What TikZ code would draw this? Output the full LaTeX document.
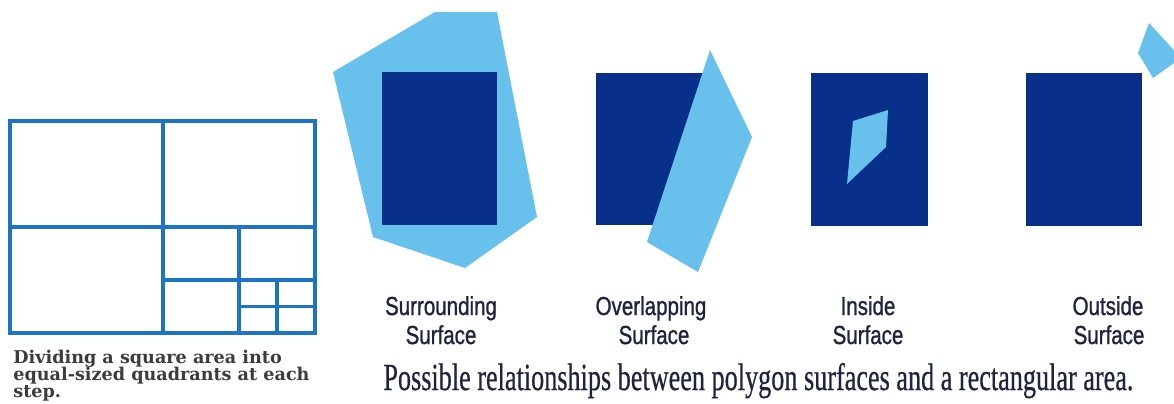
\documentclass[tikz,border=0pt]{standalone}
\usepackage{fontspec}
\usepackage{graphicx}
\setmainfont{Liberation Serif}
\newfontfamily\lblfont[FakeBold=1.2]{Liberation Sans}
\newfontfamily\capfont{DejaVu Serif}
\newfontfamily\mainfont[FakeBold=0.6]{Liberation Serif}
\definecolor{gridblue}{RGB}{28,116,196}
\definecolor{darkarea}{RGB}{8,48,138}
\definecolor{lightpoly}{RGB}{104,192,236}
\definecolor{labelink}{RGB}{30,36,64}
\definecolor{capgray}{RGB}{60,60,60}
\newcommand\lbltext[1]{\scalebox{0.79}[1]{#1}}
\tikzset{
  gridline/.style={draw=gridblue, line width=1.7pt, line cap=rect},
  area/.style={fill=darkarea},
  poly/.style={fill=lightpoly},
  lbl/.style={inner sep=0pt, anchor=base, text=labelink, font=\lblfont\fontsize{13pt}{15pt}\selectfont},
  leftcap/.style={inner sep=0pt, anchor=base west, text=capgray, font=\capfont\bfseries\fontsize{8.8pt}{10pt}\selectfont},
  maincap/.style={inner sep=0pt, anchor=base west, text=labelink, font=\mainfont}
}
\begin{document}
\begin{tikzpicture}[x=0.5pt, y=-0.5pt]
\useasboundingbox (0,0) rectangle (1174,403);
\fill[white] (0,0) rectangle (1174,403);
% quadtree subdivision
\draw[gridline] (10,121) rectangle (315,333);
\draw[gridline] (163,121) -- (163,333);
\draw[gridline] (10,227) -- (315,227);
\draw[gridline] (239,227) -- (239,333);
\draw[gridline] (163,280) -- (315,280);
\draw[gridline] (277,280) -- (277,333);
\draw[gridline] (239,306.5) -- (315,306.5);
\node[leftcap] (lc1) at (13,363) {Dividing a square area into};
\node[leftcap] (lc2) at (13,380) {equal-sized quadrants at each};
\node[leftcap] (lc3) at (13,397) {step.};
% surrounding
\fill[poly] (333,72) -- (435,12) -- (497,12) -- (537,217) -- (465,268) -- (373,237) -- cycle;
\fill[area] (382,72) rectangle (497,225);
% overlapping
\fill[area] (596,73) rectangle (703,225);
\fill[poly] (710,50) -- (752,137) -- (698,272) -- (647,242) -- cycle;
% inside
\fill[area] (811,73) rectangle (928,226);
\fill[poly] (853,121) -- (888,110) -- (886,147) -- (847,184) -- cycle;
% outside
\fill[area] (1026,73) rectangle (1142,226);
\fill[poly] (1138,53) -- (1149,23) -- (1181,58) -- (1153,78) -- cycle;
% labels
\node[lbl] (s1) at (441,315) {\lbltext{Surrounding}};
\node[lbl] (s2) at (441,344) {\lbltext{Surface}};
\node[lbl] (o1) at (651,315) {\lbltext{Overlapping}};
\node[lbl] (o2) at (654,344) {\lbltext{Surface}};
\node[lbl] (i1) at (868,315) {\lbltext{Inside}};
\node[lbl] (i2) at (868,344) {\lbltext{Surface}};
\node[lbl] (u1) at (1108,315) {\lbltext{Outside}};
\node[lbl] (u2) at (1109,344) {\lbltext{Surface}};
\node[maincap] (mc) at (383,390) {\resizebox{375pt}{13.5pt}{Possible relationships between polygon surfaces and a rectangular area.}};
\end{tikzpicture}
\end{document}
